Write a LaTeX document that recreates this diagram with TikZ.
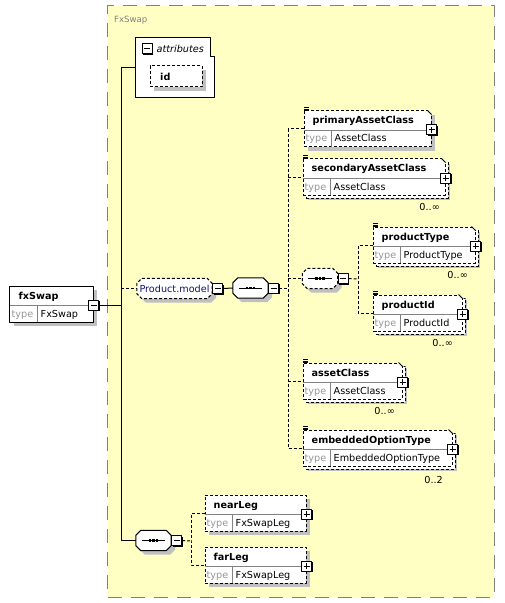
\documentclass[tikz,border=0pt]{standalone}
\usepackage{fontspec}
\setmainfont{DejaVu Sans}

\definecolor{paneyellow}{RGB}{255,255,196}
\definecolor{panegray}{RGB}{128,128,128}
\definecolor{shadowgray}{RGB}{192,192,192}
\definecolor{typegray}{RGB}{150,150,150}
\definecolor{dividergray}{RGB}{130,130,130}
\definecolor{groupnavy}{RGB}{20,20,110}

% element box: name row + type row
\newcommand{\xsdelem}[7][]{%
  \node[elembox,#1,minimum width=#5bp] (#2) at ({#3+#5/2},{#4+18}) {};
  \draw[divider] ([yshift=-1bp]#2.west) -- ([yshift=-1bp]#2.east);
  \draw[divider] ([xshift=28bp]#2.south west) -- ([xshift=28bp,yshift=-1bp]#2.west);
  \node[namelbl,anchor=base west] (#2-name) at ([xshift=9bp,yshift=5bp]#2.west) {#6};
  \node[typelbl,anchor=base west] (#2-key) at ([xshift=2bp,yshift=-13bp]#2.west) {type};
  \node[anchor=base west] (#2-type) at ([xshift=31bp,yshift=-13bp]#2.west) {#7};
}
% cut corner and content mark
\newcommand{\simplemark}[1]{%
  \fill[paneyellow] ([xshift=1bp,yshift=1bp]#1.north east) -- ([xshift=-4.5bp,yshift=1bp]#1.north east) -- ([xshift=1bp,yshift=-4.5bp]#1.north east) -- cycle;
  \draw[line width=1bp] ([xshift=-4bp]#1.north east) -- ([yshift=-4bp]#1.north east);
  \foreach \k in {0,1.4,2.8}
    \draw[line width=0.6bp] ([xshift=0.5bp,yshift=\k bp]#1.north west) -- ++(5,0);
}
% octagon outline round a node
\newcommand{\octagon}[2][]{%
  \draw[octo,#1] ([xshift=5bp]#2.north west) -- ([xshift=-5bp]#2.north east) -- ([yshift=-5bp]#2.north east)
    -- ([yshift=5bp]#2.south east) -- ([xshift=-5bp]#2.south east) -- ([xshift=5bp]#2.south west)
    -- ([yshift=5bp]#2.south west) -- ([yshift=-5bp]#2.north west) -- cycle;
}
% sequence mark
\newcommand{\seqmark}[1]{%
  \draw[line width=1bp] ([xshift=6bp]#1.west) -- ([xshift=-6bp]#1.east);
  \foreach \k in {-3.6,0,3.6}
    \fill ([xshift=\k bp]#1.center) +(-1.2,-1.2) rectangle +(1.2,1.2);
}

\begin{document}
\begin{tikzpicture}[x=1bp,y=-1bp,line join=bevel,
  every node/.style={inner sep=0pt,font=\fontsize{9.7}{11.6}\selectfont},
  conn/.style={line width=1bp},
  optconn/.style={line width=1bp,dash pattern=on 3bp off 2bp},
  optional/.style={dash pattern=on 3bp off 2bp},
  dropshade/.style={preaction={fill=shadowgray,transform canvas={xshift=4bp,yshift=-4bp}}},
  elembox/.style={rectangle,draw,fill=white,line width=1bp,minimum height=36bp,dropshade},
  multi/.style={preaction={fill=shadowgray,transform canvas={xshift=5bp,yshift=-5bp}},
    preaction={draw,fill=white,dash pattern=on 3bp off 2bp,transform canvas={xshift=3bp,yshift=-3bp}}},
  divider/.style={draw=dividergray,line width=0.8bp,solid,shorten <=0.5bp,shorten >=0.5bp},
  namelbl/.style={font=\fontsize{9.7}{11.6}\selectfont\bfseries},
  typelbl/.style={text=typegray},
  occlbl/.style={anchor=base east},
  expandbox/.style={draw,fill=white,line width=1bp,minimum size=10bp,solid,
    preaction={fill=black,transform canvas={xshift=1bp,yshift=-1bp}},
    path picture={\draw[line width=1bp]
      ([xshift=2bp]path picture bounding box.west) -- ([xshift=-2bp]path picture bounding box.east)
      ([yshift=-2bp]path picture bounding box.north) -- ([yshift=2bp]path picture bounding box.south);}},
  collapsebox/.style={draw,fill=white,line width=1bp,minimum size=10bp,solid,
    preaction={fill=black,transform canvas={xshift=1bp,yshift=-1bp}},
    path picture={\draw[line width=1bp]
      ([xshift=2bp]path picture bounding box.west) -- ([xshift=-2bp]path picture bounding box.east);}},
  octo/.style={draw,fill=white,line width=1bp,dropshade},
  seqbox/.style={rectangle,minimum width=35bp,minimum height=20bp},
  groupbox/.style={rectangle,minimum width=75bp,minimum height=20bp},
  attrbox/.style={rectangle,draw,fill=white,line width=1bp,optional,minimum width=52bp,minimum height=21bp,dropshade},
  pane/.style={rectangle,draw=panegray,fill=paneyellow,line width=1bp,dash pattern=on 14bp off 9bp,
    minimum width=386bp,minimum height=591bp},
  panetitle/.style={text=panegray,font=\fontsize{8.6}{10}\selectfont},
]
\useasboundingbox (0,0) rectangle (505,603);
%% complex type pane
\node[pane] (pane) at (301,301.5) {};
\node[panetitle,anchor=base west] (pane-title) at (114,23) {FxSwap};

%% attributes
\node[minimum width=78bp,minimum height=59bp] (attributes) at (175,67.5) {};
\draw[line width=1bp,fill=white] (attributes.north west) -- ([xshift=-4bp]attributes.north east)
  -- ([xshift=-4bp,yshift=-19bp]attributes.north east) -- ([yshift=-19bp]attributes.north east)
  -- (attributes.south east) -- (attributes.south west) -- cycle;
\node[collapsebox] (attributes-minus) at (147,49) {};
\node[anchor=base west,font=\fontsize{9.7}{11.6}\selectfont\itshape] (attributes-title) at (156.5,52.5) {attributes};
\node[attrbox] (id) at (176,76.5) {};
\node[namelbl,anchor=base west] (id-name) at (160,80.5) {id};

%% root element
\xsdelem{fxSwap}{10}{286}{83}{fxSwap}{FxSwap}
\node[collapsebox] (fxSwap-minus) at ([yshift=-1bp]fxSwap.east) {};

%% Product.model group
\node[groupbox] (model) at (174.5,288.5) {};
\octagon[optional]{model}
\node[anchor=base,text=groupnavy] (model-name) at ([yshift=-3.5bp]model.center) {Product.model};
\node[collapsebox] (model-minus) at ([xshift=5.5bp]model.east) {};
\node[seqbox] (seqA) at (250.5,288) {};
\octagon{seqA}
\seqmark{seqA}
\node[collapsebox] (seqA-minus) at ([xshift=5.5bp]seqA.east) {};

\xsdelem[optional]{primaryAssetClass}{304}{111}{127}{primaryAssetClass}{AssetClass}
\simplemark{primaryAssetClass}
\node[expandbox] (primaryAssetClass-plus) at ([yshift=-1bp]primaryAssetClass.east) {};

\xsdelem[optional,multi]{secondaryAssetClass}{303}{159}{142}{secondaryAssetClass}{AssetClass}
\simplemark{secondaryAssetClass}
\node[expandbox] (secondaryAssetClass-plus) at ([yshift=-1bp]secondaryAssetClass.east) {};
\node[occlbl] (secondaryAssetClass-occ) at (440,210.5) {0..∞};

\node[seqbox] (seqC) at (320,278.5) {};
\octagon[optional]{seqC}
\seqmark{seqC}
\node[collapsebox] (seqC-minus) at ([xshift=5.5bp]seqC.east) {};

\xsdelem[optional,multi]{productType}{373}{227}{102}{productType}{ProductType}
\simplemark{productType}
\node[expandbox] (productType-plus) at ([yshift=-1bp]productType.east) {};
\node[occlbl] (productType-occ) at (468,278.5) {0..∞};

\xsdelem[optional,multi]{productId}{373}{295}{89}{productId}{ProductId}
\simplemark{productId}
\node[expandbox] (productId-plus) at ([yshift=-1bp]productId.east) {};
\node[occlbl] (productId-occ) at (453,346) {0..∞};

\xsdelem[optional,multi]{assetClass}{303}{363}{99}{assetClass}{AssetClass}
\simplemark{assetClass}
\node[expandbox] (assetClass-plus) at ([yshift=-1bp]assetClass.east) {};
\node[occlbl] (assetClass-occ) at (395,414) {0..∞};

\xsdelem[optional,multi]{embeddedOptionType}{303}{430}{149}{embeddedOptionType}{EmbeddedOptionType}
\simplemark{embeddedOptionType}
\node[expandbox] (embeddedOptionType-plus) at ([yshift=-1bp]embeddedOptionType.east) {};
\node[occlbl] (embeddedOptionType-occ) at (443,483) {0..2};

%% legs
\node[seqbox] (seqB) at (153.5,540.5) {};
\octagon{seqB}
\seqmark{seqB}
\node[collapsebox] (seqB-minus) at ([xshift=5.5bp]seqB.east) {};
\xsdelem[optional]{nearLeg}{205}{495}{101}{nearLeg}{FxSwapLeg}
\node[expandbox] (nearLeg-plus) at ([yshift=-1bp]nearLeg.east) {};
\xsdelem[optional]{farLeg}{205}{547}{101}{farLeg}{FxSwapLeg}
\node[expandbox] (farLeg-plus) at ([yshift=-1bp]farLeg.east) {};

%% connectors
\coordinate (mainTrunk) at (121,300);
\coordinate (modelTrunk) at (288,288);
\coordinate (innerTrunk) at (358,279);
\coordinate (legTrunk) at (191,541);
\draw[conn] (attributes.west) -- (attributes.west -| mainTrunk) |- (seqB.west);
\draw[conn] (fxSwap-minus.east) -- (fxSwap-minus.east -| mainTrunk);
\draw[optconn] (model.west -| mainTrunk) -- (model.west);
\draw[conn] (model-minus.east) -- (seqA.west);
\draw[optconn] (seqA-minus.east) -- (modelTrunk);
\draw[optconn] (primaryAssetClass.west) -| (modelTrunk) |- (embeddedOptionType.west);
\draw[optconn] (secondaryAssetClass.west -| modelTrunk) -- (secondaryAssetClass.west);
\draw[optconn] (seqC.west -| modelTrunk) -- (seqC.west);
\draw[optconn] (assetClass.west -| modelTrunk) -- (assetClass.west);
\draw[optconn] (seqC-minus.east) -- (innerTrunk);
\draw[optconn] (productType.west) -| (innerTrunk) |- (productId.west);
\draw[optconn] (seqB-minus.east) -- (legTrunk);
\draw[optconn] (nearLeg.west) -| (legTrunk) |- (farLeg.west);
%
\end{tikzpicture}
\end{document}
